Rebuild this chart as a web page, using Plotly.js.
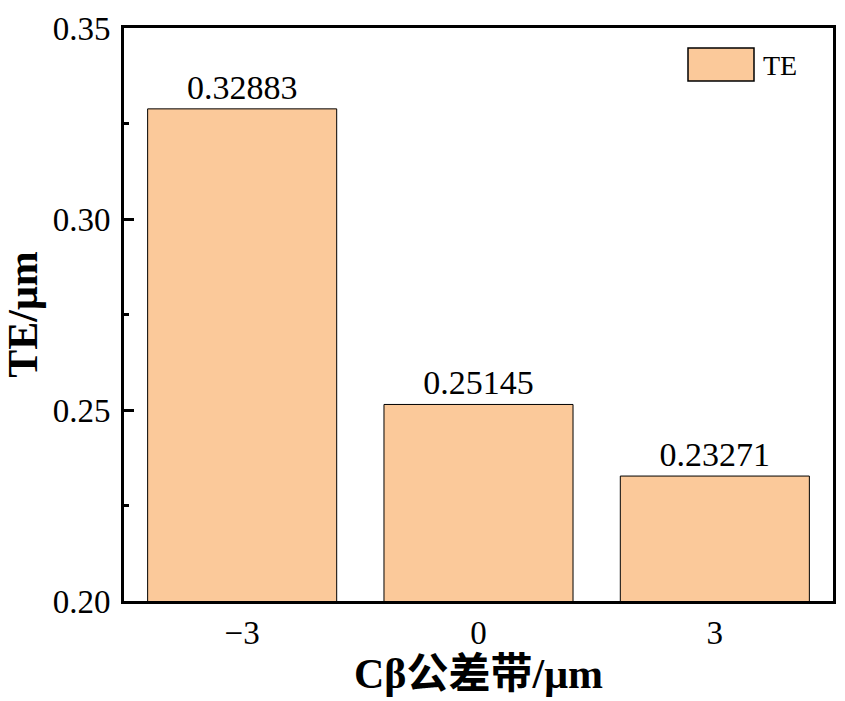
<!DOCTYPE html>
<html>
<head>
<meta charset="utf-8">
<script src="https://cdn.plot.ly/plotly-3.0.1.min.js"></script>
<style>
  body { margin: 0; background: #fff; }
  #graphDiv { width: 845px; height: 701px; }
</style>
</head>
<body>
<div id="graphDiv"></div>
<script>
var tolerances = ['\u22123', '0', '3'];
var teValues = [0.32883, 0.25145, 0.23271];
var yTicks = [0.20, 0.25, 0.30, 0.35];

var serif = 'Liberation Serif, Noto Sans CJK SC, serif';

var trace1 = {
  type: 'bar',
  name: 'TE',
  x: tolerances,
  y: teValues,
  width: 0.8,
  marker: {color: '#fbc99a', line: {color: '#000000', width: 1}},
  text: teValues.map(function(v) { return v.toFixed(5); }),
  textposition: 'outside',
  textfont: {family: serif, size: 34, color: '#000'},
  cliponaxis: false,
  showlegend: false
};

var layout = {
  width: 845,
  height: 701,
  margin: {l: 124, r: 12, t: 28, b: 100},
  paper_bgcolor: '#fff',
  plot_bgcolor: '#fff',
  font: {family: serif, color: '#000'},
  bargap: 0.2,
  xaxis: {
    type: 'category',
    categoryorder: 'array',
    categoryarray: tolerances,
    range: [-0.5, 2.5],
    showline: true,
    linecolor: '#000',
    linewidth: 3,
    mirror: true,
    ticks: '',
    showgrid: false,
    tickfont: {family: serif, size: 33},
    title: {text: '<b>C\u03b2\u516c\u5dee\u5e26/\u03bcm</b>', font: {family: serif, size: 42}, standoff: 10}
  },
  yaxis: {
    range: [0.20, 0.35],
    tickvals: yTicks,
    tickformat: '.2f',
    showline: true,
    linecolor: '#000',
    linewidth: 3,
    mirror: true,
    ticks: 'inside',
    ticklen: 10,
    tickwidth: 3,
    tickcolor: '#000',
    ticklabelstandoff: 4,
    minor: {dtick: 0.025, ticks: 'inside', ticklen: 5, tickwidth: 3, tickcolor: '#000', showgrid: false},
    showgrid: false,
    zeroline: false,
    tickfont: {family: serif, size: 33},
    title: {text: '<b>TE/\u03bcm</b>', font: {family: serif, size: 42}, standoff: 14}
  },
  shapes: [{
    type: 'rect', xref: 'paper', yref: 'paper',
    x0: (688 - 124) / 709, x1: (754 - 124) / 709,
    y0: (601 - 81) / 573, y1: (601 - 48) / 573,
    fillcolor: '#fbc99a', line: {color: '#000', width: 1.5}
  }],
  annotations: [{
    xref: 'paper', yref: 'paper',
    x: (761 - 124) / 709, y: (601 - 65) / 573,
    xanchor: 'left', yanchor: 'middle',
    text: 'TE', showarrow: false,
    font: {family: serif, size: 28, color: '#000'}
  }]
};

Plotly.newPlot('graphDiv', [trace1], layout, {displayModeBar: false});
</script>
</body>
</html>
